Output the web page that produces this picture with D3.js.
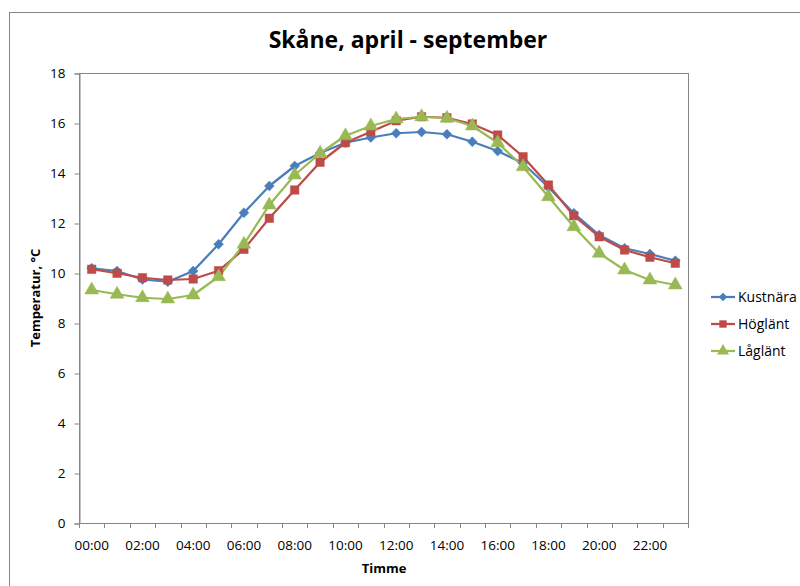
<!DOCTYPE html>
<html>
<head>
<meta charset="utf-8">
<script src="https://cdn.jsdelivr.net/npm/d3@7"></script>
<style>
  html, body { margin: 0; padding: 0; background: #fff; }
  svg { display: block; }
  text { font-family: "Open Sans", "Noto Sans", sans-serif; fill: #000; }
</style>
</head>
<body>
<svg id="chart" width="800" height="586"></svg>
<script>
const hours = ["00:00","01:00","02:00","03:00","04:00","05:00","06:00","07:00","08:00","09:00","10:00","11:00",
               "12:00","13:00","14:00","15:00","16:00","17:00","18:00","19:00","20:00","21:00","22:00","23:00"];
const kustnara = [10.19, 10.08, 9.74, 9.65, 10.08, 11.15, 12.41, 13.48, 14.28, 14.8, 15.21, 15.42,
                  15.59, 15.64, 15.55, 15.25, 14.88, 14.39, 13.43, 12.39, 11.52, 10.99, 10.76, 10.49];
const hoglant = [10.15, 9.99, 9.81, 9.72, 9.76, 10.09, 10.95, 12.19, 13.32, 14.43, 15.21, 15.65,
                 16.09, 16.25, 16.21, 15.96, 15.52, 14.65, 13.52, 12.29, 11.45, 10.92, 10.63, 10.39];
const laglant = [9.32, 9.15, 9.01, 8.96, 9.12, 9.85, 11.15, 12.72, 13.92, 14.79, 15.49, 15.88,
                 16.16, 16.25, 16.19, 15.88, 15.21, 14.25, 13.05, 11.85, 10.79, 10.12, 9.72, 9.52];
const yTicks = [0, 2, 4, 6, 8, 10, 12, 14, 16, 18];
const seriesNames = ["Kustnära", "Höglänt", "Låglänt"];
const seriesColors = ["#4A7EBB", "#BE4B48", "#98B954"];
const seriesSymbols = [d3.symbolDiamond2, d3.symbolSquare, d3.symbolTriangle];
const titleText = "Skåne, april - september";
const xTitle = "Timme";
const yTitle = "Temperatur, °C";

const series = [kustnara, hoglant, laglant];
const svg = d3.select("#chart");

// outer chart border
svg.append("rect").attr("x", 9.5).attr("y", 12.5).attr("width", 800).attr("height", 600)
  .attr("fill", "#fff").attr("stroke", "#868686").attr("stroke-width", 1);

const L = 79, R = 688, T = 73, B = 523;
const x = d3.scaleBand().domain(hours).range([L, R]).paddingInner(0).paddingOuter(0);
const y = d3.scaleLinear().domain([0, 18]).range([B, T]);

// plot area border
svg.append("rect").attr("x", L + 0.5).attr("y", T + 0.5).attr("width", R - L).attr("height", B - T)
  .attr("fill", "none").attr("stroke", "#868686").attr("stroke-width", 1);

// y axis
const yAxis = svg.append("g").attr("transform", `translate(${L + 0.5},0.5)`)
  .call(d3.axisLeft(y).tickValues(yTicks).tickSize(5).tickPadding(9).tickFormat(d3.format("d")));
yAxis.select(".domain").attr("stroke", "#868686");
yAxis.selectAll(".tick line").attr("stroke", "#868686");
yAxis.selectAll(".tick text").attr("font-size", "13.5px").attr("font-family", "'Open Sans', sans-serif").attr("fill", "#000");

// x axis: ticks at category boundaries
const boundaries = hours.map(h => x(h)).concat([R]);
const xg = svg.append("g");
xg.append("line").attr("x1", L).attr("x2", R).attr("y1", B + 0.5).attr("y2", B + 0.5).attr("stroke", "#868686");
xg.selectAll("line.tk").data(boundaries).enter().append("line").attr("class", "tk")
  .attr("x1", d => Math.round(d) + 0.5).attr("x2", d => Math.round(d) + 0.5)
  .attr("y1", B).attr("y2", B + 5).attr("stroke", "#868686");
xg.selectAll("text").data(hours.filter((h, i) => i % 2 === 0)).enter().append("text")
  .attr("x", d => x(d) + x.bandwidth() / 2).attr("y", B + 27)
  .attr("text-anchor", "middle").attr("font-size", "13.5px").text(d => d);

// lines and markers
const line = d3.line().x((d, i) => x(hours[i]) + x.bandwidth() / 2).y(d => y(d));
series.forEach((s, si) => {
  svg.append("path").datum(s).attr("d", line).attr("fill", "none")
    .attr("stroke", seriesColors[si]).attr("stroke-width", 2.25).attr("stroke-linejoin", "round");
});
const sizes = [62, 72, 82];
series.forEach((s, si) => {
  svg.append("g").selectAll("path").data(s).enter().append("path")
    .attr("transform", (d, i) => `translate(${x(hours[i]) + x.bandwidth() / 2},${y(d)})`)
    .attr("d", d3.symbol().type(seriesSymbols[si]).size(sizes[si]))
    .attr("fill", seriesColors[si]).attr("stroke", seriesColors[si]).attr("stroke-width", 0.5);
});

// title
svg.append("text").attr("x", 408).attr("y", 48).attr("text-anchor", "middle")
  .attr("font-size", "23px").attr("font-weight", "bold").text(titleText);

// axis titles
svg.append("text").attr("x", 384).attr("y", 573).attr("text-anchor", "middle")
  .attr("font-size", "13px").attr("font-weight", "bold").text(xTitle);
svg.append("text").attr("transform", `translate(40,${(T + B) / 2}) rotate(-90)`)
  .attr("text-anchor", "middle").attr("font-size", "13px").attr("font-weight", "bold").text(yTitle);

// legend
const lg = svg.append("g");
seriesNames.forEach((n, i) => {
  const yy = 297 + i * 27;
  lg.append("line").attr("x1", 711).attr("x2", 735).attr("y1", yy).attr("y2", yy)
    .attr("stroke", seriesColors[i]).attr("stroke-width", 2.25);
  lg.append("path").attr("transform", `translate(723,${yy})`)
    .attr("d", d3.symbol().type(seriesSymbols[i]).size(sizes[i] * 0.75))
    .attr("fill", seriesColors[i]);
  lg.append("text").attr("x", 738).attr("y", yy + 5).attr("font-size", "14px").text(n);
});
</script>
</body>
</html>
